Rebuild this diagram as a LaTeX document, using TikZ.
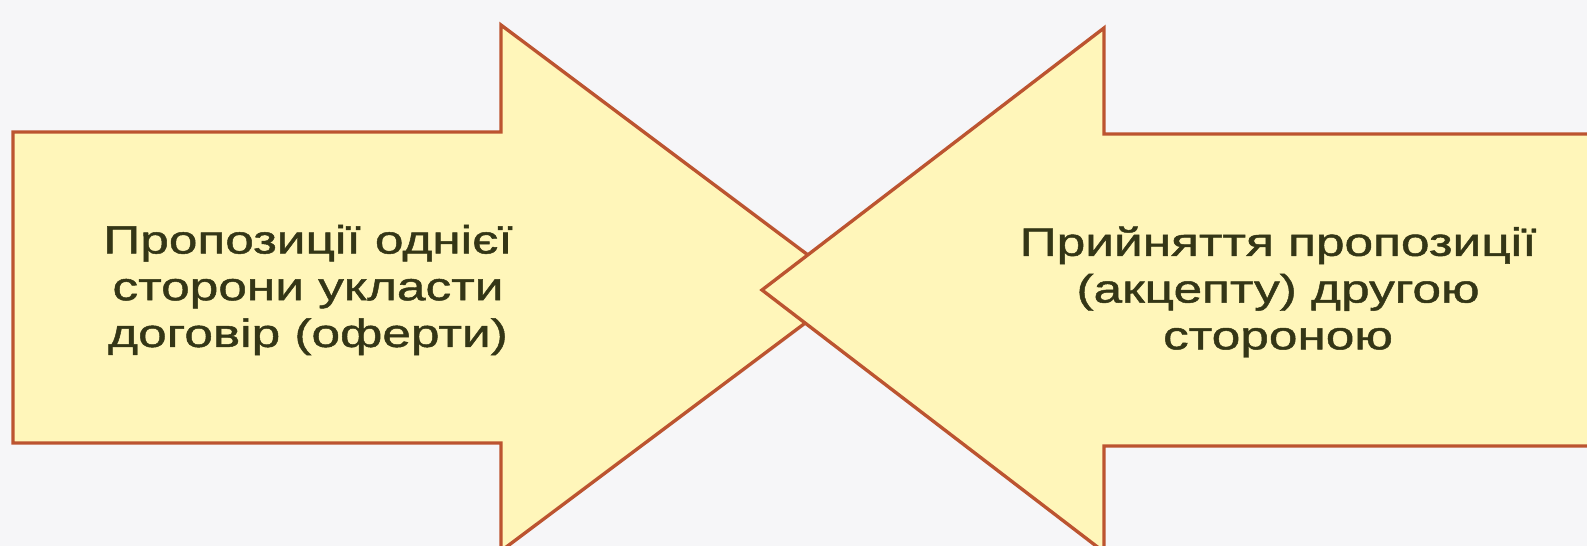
\documentclass[tikz,border=0pt]{standalone}
\usepackage{fontspec}
\usepackage{tikz}
\usetikzlibrary{positioning}
\newfontfamily\arrowfont[FakeStretch=1.3, FakeBold=1.2]{Liberation Sans}
\definecolor{arrowfill}{RGB}{255,246,186}
\definecolor{arrowline}{RGB}{188,84,48}
\definecolor{paper}{RGB}{246,246,248}
\definecolor{inkolive}{RGB}{52,54,22}
\tikzset{
  bigarrow/.style={fill=arrowfill, draw=arrowline, line width=1.9pt, line join=miter},
  arrowtext/.style={font=\arrowfont\fontsize{22.5}{26.6}\selectfont, text=inkolive, align=center, inner sep=0pt}
}

\begin{document}
\begin{tikzpicture}[x=0.02cm, y=-0.02cm]
\fill[paper] (0,0) rectangle (1587,546);
\useasboundingbox (0,0) rectangle (1587,546);
\clip (0,0) rectangle (1587,546);
% offer (left arrow)
\draw[bigarrow] (13,132) -- (501,132) -- (501,25) -- (852,288) -- (501,551)
  -- (501,443) -- (13,443) -- cycle;
% acceptance (right arrow), drawn on top
\draw[bigarrow] (1600,134) -- (1104,134) -- (1104,28) -- (762,290) -- (1104,552)
  -- (1104,446) -- (1600,446);
\node[arrowtext] (offer) at (308,290) {Пропозиції однієї\\сторони укласти\\договір (оферти)};
\node[arrowtext] (accept) at (1278,292) {Прийняття пропозиції\\(акцепту) другою\\стороною};
\end{tikzpicture}
\end{document}
